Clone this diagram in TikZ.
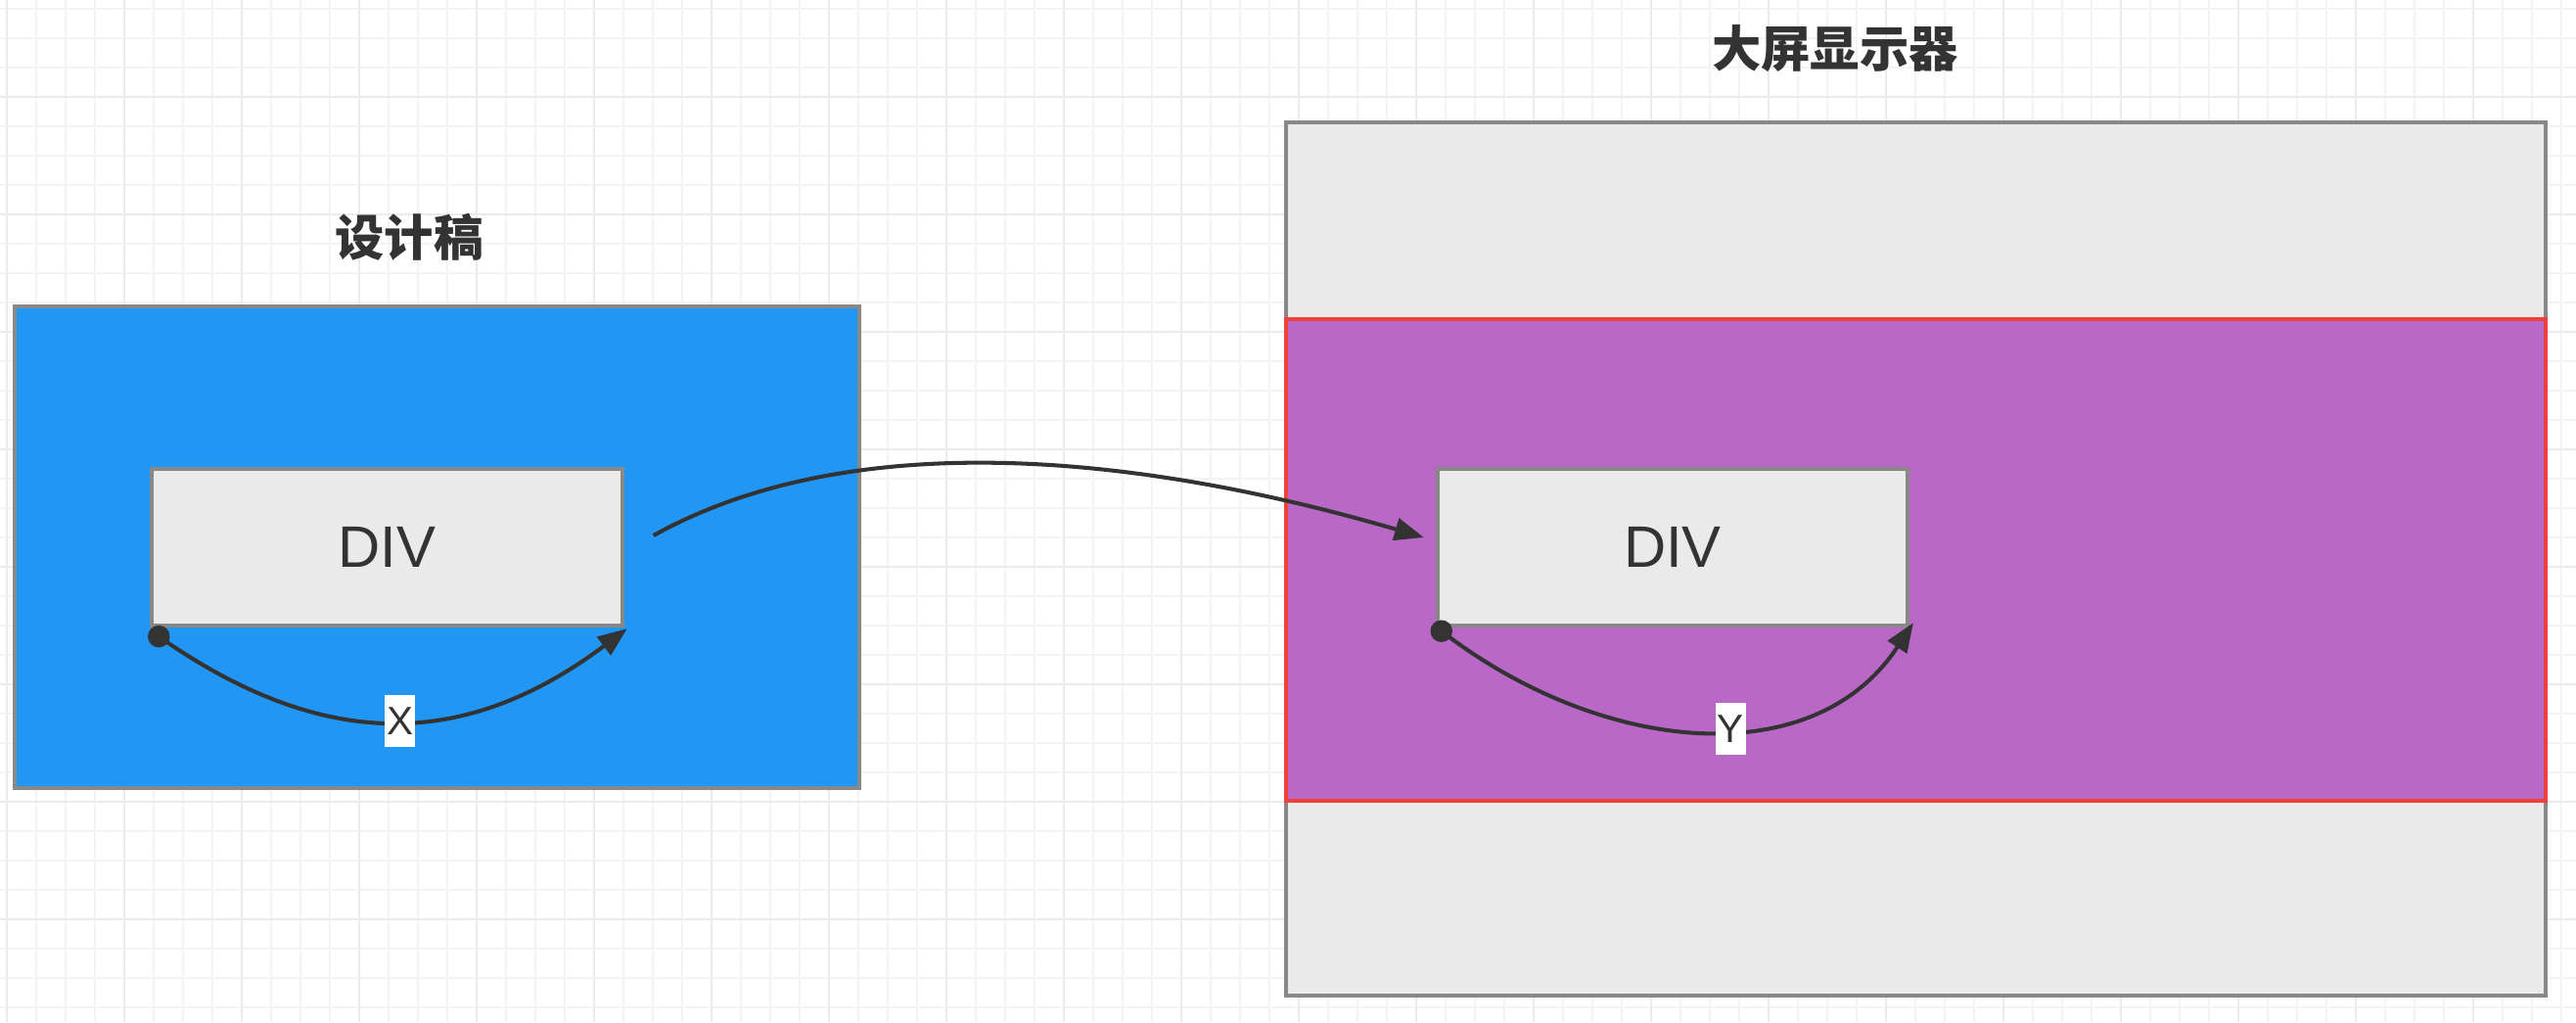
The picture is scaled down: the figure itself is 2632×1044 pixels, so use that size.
\documentclass[tikz,border=0pt]{standalone}
\usepackage{fontspec}
\setmainfont{Liberation Sans}
\newfontfamily\cjk{Noto Sans CJK SC}
\usetikzlibrary{arrows.meta}

\definecolor{testo}{HTML}{333333}
\definecolor{bordo}{HTML}{888888}
\definecolor{grigio}{HTML}{EAEAEA}
\definecolor{blu}{HTML}{2196F3}
\definecolor{viola}{HTML}{BA68C8}
\definecolor{rosso}{HTML}{F0403A}
\definecolor{griglia}{HTML}{F4F4F4}
\definecolor{grigliaforte}{HTML}{EBEBEB}

\begin{document}
\begin{tikzpicture}[x=0.01cm, y=0.01cm,
		box/.style={draw=bordo, line width=1.2pt, inner sep=0pt},
		div/.style={box, fill=grigio, minimum width=4.8cm, minimum height=1.6cm, text=testo, font=\fontsize{17}{20}\selectfont},
		titolo/.style={text=testo, font=\cjk\bfseries\fontsize{14.3}{17}\selectfont},
		freccia/.style={line width=1.15pt, draw=testo, -{Triangle[length=8.5pt,width=6.5pt]}},
		etichetta/.style={fill=white, text=testo, inner xsep=0.02cm, inner ysep=0pt, minimum height=0.53cm, font=\fontsize{11.5}{13}\selectfont}]

		\fill[white] (0,0) rectangle (2632,1044);
		\useasboundingbox (0,0) rectangle (2632,1044);

		% griglia di sfondo
		\foreach \x in {6.7,36.7,...,2632} \draw[griglia, line width=0.6pt] (\x,0) -- (\x,1044);
		\foreach \y in {15,45,...,1035} \draw[griglia, line width=0.6pt] (0,\y) -- (2632,\y);
		\foreach \x in {6.7,126.7,...,2632} \draw[grigliaforte, line width=0.6pt] (\x,0) -- (\x,1044);
		\foreach \y in {105,225,...,945} \draw[grigliaforte, line width=0.6pt] (0,\y) -- (2632,\y);

		% design
		\node[titolo] (titoloP) at (418,802) {设计稿};
		\node[box, fill=blu, minimum width=8.625cm, minimum height=4.915cm] (progetto) at (446.75,484.75) {};
		\node[div] (divP) at (395.5,485) {DIV};

		% schermo
		\node[titolo] (titoloS) at (1875,994) {大屏显示器};
		\node[box, fill=grigio, minimum width=12.866cm, minimum height=8.92cm] (schermo) at (1957.3,473) {};
		\node[draw=rosso, line width=1.2pt, fill=viola, inner sep=0pt, minimum width=12.866cm, minimum height=4.916cm] (fascia) at (1957.3,472.2) {};
		\node[div] (divS) at (1709,485) {DIV};

		\coordinate (inizioX) at ([shift={(9,-9)}]divP.south west);
		\coordinate (fineX) at ([shift={(3,-1)}]divP.south east);
		\coordinate (inizioY) at ([shift={(6,-3.5)}]divS.south west);
		\coordinate (fineY) at ([shift={(3.6,5)}]divS.south east);

		\draw[freccia] (inizioX) .. controls +(167,-117) and +(-167,-125) .. (fineX) node[etichetta, pos=0.515] {X};
		\fill[testo] (inizioX) circle[radius=3.2pt];

		\draw[freccia] (inizioY) .. controls +(164,-126.5) and +(-101.6,-155) .. (fineY) node[etichetta, pos=0.56] {Y};
		\fill[testo] (inizioY) circle[radius=3.2pt];

		\draw[freccia] ([shift={(30,12)}]divP.east) .. controls +(194,108) and +(-308,90) .. ([shift={(-12,10)}]divS.west);

	\end{tikzpicture}
\end{document}
